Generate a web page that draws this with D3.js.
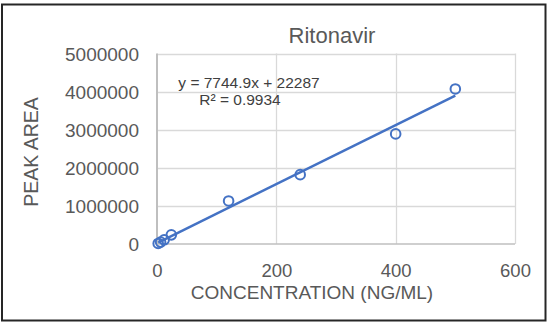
<!DOCTYPE html>
<html><head><meta charset="utf-8">
<script src="https://cdn.jsdelivr.net/npm/d3@7"></script>
<style>body{margin:0;background:#fff}svg{display:block}text{font-family:"Liberation Sans",Arial,sans-serif}</style>
</head><body><svg id="c" width="549" height="327"></svg>
<script>
const title = "Ritonavir";
const concentration = [2, 6, 12, 24, 120, 240, 400, 500];
const peakArea = [15000, 50000, 110000, 240000, 1130000, 1820000, 2890000, 4070000];
const xTicks = [0, 200, 400, 600];
const yTicks = [0, 1000000, 2000000, 3000000, 4000000, 5000000];
const slope = 7744.9, intercept = 22287;
const eqLabel = "y = 7744.9x + 22287";
const r2Label = "R² = 0.9934";
const xTitle = "CONCENTRATION (NG/ML)";
const yTitle = "PEAK AREA";

const svg = d3.select("#c");
const x = d3.scaleLinear().domain([0, 600]).range([157, 515]);
const y = d3.scaleLinear().domain([0, 5000000]).range([244, 53.5]);
const blue = "#4472C4", txt = "#595959";

// outer frame
svg.append("rect").attr("x", 2).attr("y", 4.5).attr("width", 543.5).attr("height", 316)
  .attr("fill", "none").attr("stroke", "#262626").attr("stroke-width", 2);

// gridlines
svg.append("g").selectAll("line").data(yTicks.slice(1)).join("line")
  .attr("x1", x(0)).attr("x2", x(600)).attr("y1", d => Math.round(y(d)) + 0.5).attr("y2", d => Math.round(y(d)) + 0.5)
  .attr("stroke", "#d9d9d9").attr("stroke-width", 1.3);
svg.append("g").selectAll("line").data(xTicks.slice(1)).join("line")
  .attr("y1", y(0)).attr("y2", y(5000000)).attr("x1", d => Math.round(x(d)) + 0.5).attr("x2", d => Math.round(x(d)) + 0.5)
  .attr("stroke", "#d9d9d9").attr("stroke-width", 1.3);
// axis lines
svg.append("line").attr("x1", x(0)).attr("x2", x(0)).attr("y1", y(0)).attr("y2", y(5000000)).attr("stroke", "#bfbfbf").attr("stroke-width", 2);
svg.append("line").attr("x1", x(0)).attr("x2", x(600)).attr("y1", y(0)).attr("y2", y(0)).attr("stroke", "#bfbfbf").attr("stroke-width", 1.5);

// axes labels via d3 axes
const xAxis = svg.append("g").attr("transform", `translate(0,${y(0)})`)
  .call(d3.axisBottom(x).tickValues(xTicks).tickSize(0).tickPadding(0).tickFormat(d3.format("d")));
xAxis.select(".domain").remove();
xAxis.selectAll("text").attr("dy", null).attr("y", 33).attr("fill", txt).attr("font-size", 18.5);

const yAxis = svg.append("g").attr("transform", `translate(${x(0)},0)`)
  .call(d3.axisLeft(y).tickValues(yTicks).tickSize(0).tickPadding(0).tickFormat(d3.format("d")));
yAxis.select(".domain").remove();
yAxis.selectAll("text").attr("x", -18).attr("dy", "0.35em").attr("fill", txt).attr("font-size", 19);

// title
svg.append("text").attr("x", 332).attr("y", 43).attr("text-anchor", "middle").attr("fill", txt).attr("font-size", 22).text(title);
svg.append("text").attr("x", 312).attr("y", 298.5).attr("text-anchor", "middle").attr("fill", txt).attr("font-size", 19).text(xTitle);
svg.append("text").attr("transform", "translate(38,152) rotate(-90)").attr("text-anchor", "middle").attr("fill", txt).attr("font-size", 19.5).text(yTitle);

// trendline
const x0 = d3.min(concentration), x1 = d3.max(concentration);
svg.append("line").attr("x1", x(x0)).attr("y1", y(slope * x0 + intercept))
  .attr("x2", x(x1)).attr("y2", y(slope * x1 + intercept))
  .attr("stroke", blue).attr("stroke-width", 2.5);

// points
svg.append("g").selectAll("circle").data(concentration).join("circle")
  .attr("cx", d => x(d)).attr("cy", (d, i) => y(peakArea[i])).attr("r", 4.8)
  .attr("fill", "none").attr("stroke", blue).attr("stroke-width", 2);

// equation
svg.append("text").attr("x", 249).attr("y", 88).attr("text-anchor", "middle").attr("fill", "#404040").attr("font-size", 15.5).text(eqLabel);
svg.append("text").attr("x", 240).attr("y", 105).attr("text-anchor", "middle").attr("fill", "#404040").attr("font-size", 15.5).text(r2Label);
</script></body></html>
